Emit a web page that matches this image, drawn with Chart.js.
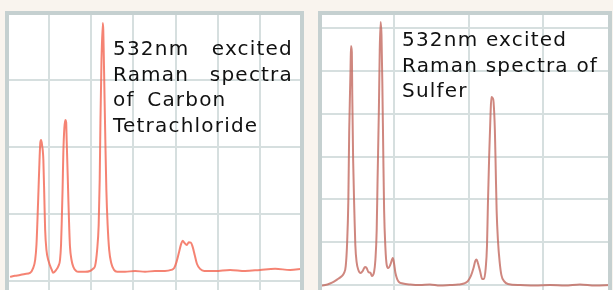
<!DOCTYPE html>
<html><head><meta charset="utf-8">
<script src="https://cdn.jsdelivr.net/npm/chart.js@4/dist/chart.umd.min.js"></script>
<style>
html,body{margin:0;padding:0;background:#f9f4ee;width:613px;height:290px;overflow:hidden;position:relative;}
#wrapL{position:absolute;left:0;top:0;width:306px;height:290px;}
#wrapR{position:absolute;left:313px;top:0;width:300px;height:290px;}
.txt{position:absolute;font-family:"DejaVu Sans",Verdana,sans-serif;font-size:20px;letter-spacing:1.2px;color:#111;line-height:25.5px;white-space:nowrap;}
.txt div{display:block;}
.j{text-align:justify;text-align-last:justify;}
</style></head>
<body>
<div id="wrapL"><canvas id="cL"></canvas></div>
<div id="wrapR"><canvas id="cR"></canvas></div>
<div class="txt" style="left:113px;top:36px;width:180px;">
  <div class="j">532nm excited</div>
  <div class="j">Raman spectra</div>
  <div style="word-spacing:5px">of Carbon</div>
  <div>Tetrachloride</div>
</div>
<div class="txt" style="left:402px;top:27px;">
  <div>532nm excited</div>
  <div>Raman spectra of</div>
  <div>Sulfer</div>
</div>
<script>
// Carbon tetrachloride spectrum: Raman shift (cm-1) and intensity (a.u.)
const ccl4Shift = [97,116,136,155,175,187,195,200,204,208,212,215,218,222,227,231,234,239,247,260,265,277,286,292,296,299,302,305,309,313,316,318,322,325,328,331,337,344,355,364,390,409,421,429,437,443,447,450,454,459,461,464,469,473,478,484,492,503,515,546,585,624,663,702,726,738,747,757,765,771,778,787,795,803,810,818,827,839,855,898,956,1015,1073,1132,1191,1237];
const ccl4Intensity = [15,19,22,26,30,48,78,134,228,340,451,515,526,507,451,302,190,116,75,41,30,41,56,78,134,228,340,478,571,601,593,526,395,291,198,127,78,52,37,34,34,37,45,56,116,209,377,601,825,963,936,787,526,340,209,116,67,41,34,34,37,34,37,37,41,48,71,108,138,150,142,134,144,143,127,97,63,45,37,37,41,37,41,45,41,45];
// Sulfur spectrum
const sulfurShift = [81,91,102,111,120,128,134,138,141,144,146,149,150,152,153,155,158,160,163,167,172,177,182,186,190,195,198,203,206,209,211,214,216,218,220,222,224,226,229,232,236,241,246,249,252,256,260,269,286,308,331,354,377,396,409,418,425,431,435,438,441,446,451,455,459,462,464,467,470,472,475,477,480,482,484,487,491,495,501,510,538,572,607,641,675,710,744];
const sulfurIntensity = [-3,0,9,20,35,50,70,111,234,496,905,1256,1396,1361,1110,730,409,234,134,88,70,82,105,99,76,70,53,76,146,321,613,1022,1373,1536,1460,1168,789,438,216,117,99,123,158,123,70,35,18,9,3,0,3,-3,0,3,9,23,53,99,140,149,129,82,35,35,99,234,467,759,993,1098,1092,1069,905,672,438,263,134,58,23,6,0,-3,0,-3,3,-3,0];

// Axis ranges (cm-1 and a.u.) and grid steps
const ccl4Range = {xMin:85, xMax:1237, xStep:164.6, yMin:-34, yMax:1000, yStep:250};
const sulfurRange = {xMin:79, xMax:744, xStep:170.4, yMin:-29, yMax:1589, yStep:250};

const gridColor = '#d6dfdf';
const frameColor = '#c5d0d0';

const panelPlugin = {
  id:'panel',
  beforeDraw(chart){
    const {ctx, chartArea:a} = chart;
    ctx.save(); ctx.fillStyle='#ffffff';
    ctx.fillRect(a.left, a.top, a.right-a.left, a.bottom-a.top);
    ctx.restore();
  },
  afterDraw(chart){
    const {ctx, chartArea:a} = chart;
    ctx.save(); ctx.strokeStyle=frameColor; ctx.lineWidth=4;
    ctx.strokeRect(a.left, a.top, a.right-a.left, a.bottom-a.top+20);
    ctx.restore();
  }
};

function zip(xs, ys){ return xs.map((x,i)=>({x:x, y:ys[i]})); }

function makeChart(id, xs, ys, r, color, padding){
  return new Chart(document.getElementById(id), {
    type:'line',
    data:{datasets:[{data:zip(xs,ys), borderColor:color, borderWidth:2, pointRadius:0, cubicInterpolationMode:'monotone', fill:false}]},
    options:{
      responsive:true, maintainAspectRatio:false, animation:false, devicePixelRatio:1,
      layout:{padding:padding},
      plugins:{legend:{display:false}, tooltip:{enabled:false}},
      scales:{
        x:{type:'linear', min:r.xMin, max:r.xMax,
           ticks:{display:false}, border:{display:false},
           grid:{color:gridColor, lineWidth:2, drawTicks:false},
           afterBuildTicks:(s)=>{ const t=[]; for(let v=r.xMin; v<=r.xMax+0.5; v+=r.xStep) t.push({value:v}); s.ticks=t; }},
        y:{type:'linear', min:r.yMin, max:r.yMax,
           ticks:{display:false}, border:{display:false},
           grid:{color:gridColor, lineWidth:2, drawTicks:false},
           afterBuildTicks:(s)=>{ const t=[]; for(let v=0; v<=r.yMax; v+=r.yStep) t.push({value:v}); t.push({value:r.yMax}); s.ticks=t; }}
      }
    },
    plugins:[panelPlugin]
  });
}

makeChart('cL', ccl4Shift, ccl4Intensity, ccl4Range, 'rgba(242,100,80,0.8)', {left:7, top:13, right:4, bottom:0});
makeChart('cR', sulfurShift, sulfurIntensity, sulfurRange, 'rgba(195,105,95,0.8)', {left:7, top:13, right:3, bottom:0});
</script>
</body></html>
